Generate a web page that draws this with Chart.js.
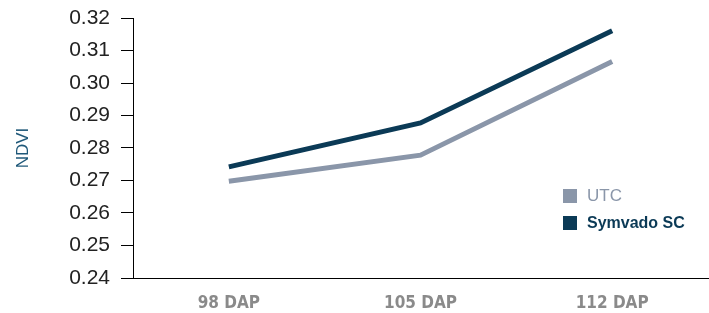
<!DOCTYPE html>
<html>
<head>
<meta charset="utf-8">
<script src="https://cdn.jsdelivr.net/npm/chart.js@4.4.1/dist/chart.umd.min.js"></script>
<style>
  html, body { margin: 0; padding: 0; background: #fff; }
  #wrap { position: relative; width: 709px; height: 313px; }
  #legend { position: absolute; left: 563px; top: 182px; font-family: "Liberation Sans", Arial, sans-serif; }
  .item { display: flex; align-items: center; height: 27px; }
  .sw { width: 14px; height: 14px; margin-right: 10px; }
</style>
</head>
<body>
<div id="wrap">
  <canvas id="myLineChart" width="709" height="313"></canvas>
  <div id="legend"></div>
</div>
<script>
// Data
const labels = ['98 DAP', '105 DAP', '112 DAP'];
const utcValues = [0.2698, 0.2778, 0.3066];
const symvadoValues = [0.2742, 0.2877, 0.3161];
const seriesNames = ['UTC', 'Symvado SC'];
const seriesColors = ['#8a96a9', '#0b3a56'];

const configLine = {
  type: 'line',
  data: {
    labels: labels,
    datasets: [{
      label: seriesNames[0],
      data: utcValues,
      borderColor: seriesColors[0],
      backgroundColor: seriesColors[0],
      borderWidth: 5,
      pointRadius: 0,
      tension: 0
    }, {
      label: seriesNames[1],
      data: symvadoValues,
      borderColor: seriesColors[1],
      backgroundColor: seriesColors[1],
      borderWidth: 5,
      pointRadius: 0,
      tension: 0
    }]
  },
  options: {
    responsive: false,
    animation: false,
    layout: { padding: { top: 18, right: 1, left: 0, bottom: 0 } },
    plugins: {
      legend: { display: false },
      tooltip: { enabled: false }
    },
    scales: {
      x: {
        offset: true,
        grid: { display: false, offset: true },
        border: { display: true, color: '#000', width: 1 },
        ticks: {
          color: '#8a8a8a',
          padding: 7,
          font: { family: '"Liberation Sans Narrow", "DejaVu Sans Condensed", sans-serif', size: 17, weight: 'bold' }
        },
        afterFit: function(scale) { scale.height = 35; }
      },
      y: {
        min: 0.24,
        max: 0.32,
        grid: { drawOnChartArea: false, drawTicks: true, tickLength: 12, color: '#000' },
        border: { display: true, color: '#000', width: 1 },
        ticks: {
          stepSize: 0.01,
          color: '#222',
          padding: 11,
          font: { family: '"Liberation Sans", Arial, sans-serif', size: 21 },
          callback: function(v) { return v.toFixed(2); }
        },
        title: {
          display: true,
          text: 'NDVI',
          color: '#1f5879',
          padding: { top: 13, bottom: 0 },
          font: { family: '"Liberation Sans", Arial, sans-serif', size: 17 }
        },
        afterFit: function(scale) {
          scale.width = 133;
          scale.paddingTop = 0;
          scale.paddingBottom = 0;
        }
      }
    }
  }
};

const myLineChart = new Chart(document.getElementById('myLineChart'), configLine);

// Legend (HTML)
const legendEl = document.getElementById('legend');
seriesNames.forEach(function(name, i) {
  const item = document.createElement('div');
  item.className = 'item';
  item.innerHTML = '<div class="sw" style="background:' + seriesColors[i] + '"></div>' +
    '<span style="font-size:' + (i === 0 ? 17 : 16) + 'px;color:' + (i === 0 ? '#8a96a9' : '#0b3a56') +
    ';font-weight:' + (i === 0 ? 'normal' : 'bold') + '">' + name + '</span>';
  legendEl.appendChild(item);
});
</script>
</body>
</html>
